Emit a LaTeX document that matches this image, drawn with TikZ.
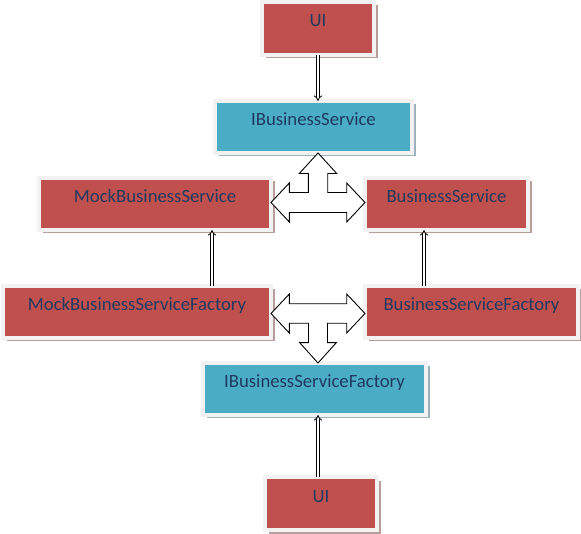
\documentclass[tikz,border=0pt]{standalone}
\usepackage{fontspec}
\setmainfont{Carlito}
\usetikzlibrary{calc,shadows,arrows.meta}

\definecolor{boxred}{HTML}{C0504D}
\definecolor{boxblue}{HTML}{4BACC6}
\definecolor{shadered}{HTML}{632523}
\definecolor{shadeblue}{HTML}{215968}
\definecolor{framegray}{HTML}{F2F2F2}
\definecolor{labelblue}{HTML}{1F3A60}

\begin{document}
\begin{tikzpicture}[x=1pt,y=-1pt,
  box/.style={rectangle,draw=framegray,line width=4pt,outer sep=0pt,
    inner xsep=0pt,inner ysep=0pt,text height=24.5pt,text depth=27.5pt,
    text=labelblue,font=\fontsize{18.7}{22}\selectfont},
  redbox/.style={box,fill=boxred,
    drop shadow={shadow xshift=3.5pt,shadow yshift=-3.5pt,fill=shadered,opacity=.45}},
  bluebox/.style={box,fill=boxblue,
    drop shadow={shadow xshift=3.5pt,shadow yshift=-3.5pt,fill=shadeblue,opacity=.45}},
  thinarrow/.style={draw=black,double=white,double distance=2pt,line width=0.8pt,-{Implies}},
  blockarrow/.style={draw=black,fill=white,line width=0.9pt,line join=miter}]
\useasboundingbox (0,0) rectangle (581,534);

\node[redbox,minimum width=112pt,minimum height=53pt] (ui1) at (318,28.5) {UI};
\node[bluebox,minimum width=197pt,minimum height=52pt] (ibs) at (313.5,127) {IBusinessService};
\node[redbox,minimum width=232pt,minimum height=52pt] (mbs) at (155,204) {MockBusinessService};
\node[redbox,minimum width=163pt,minimum height=52pt] (bs) at (446.5,204) {BusinessService};
\node[redbox,minimum width=268pt,minimum height=52pt] (mbsf) at (137,312) {MockBusinessServiceFactory};
\node[redbox,minimum width=213pt,minimum height=52pt] (bsf) at (471.5,312) {BusinessServiceFactory};
\node[bluebox,minimum width=223pt,minimum height=52pt] (ibsf) at (314.5,389) {IBusinessServiceFactory};
\node[redbox,minimum width=112pt,minimum height=53pt] (ui2) at (321,503.5) {UI};

% thin arrows
\draw[thinarrow] (ui1.south) -- (ui1.south |- ibs.north);
\draw[thinarrow] ([xshift=75pt]mbsf.north) -- ([xshift=57pt]mbs.south);
\draw[thinarrow] ([xshift=-47.5pt]bsf.north) -- ([xshift=-22.5pt]bs.south);
\draw[thinarrow] ([xshift=-3pt]ui2.north) -- ([xshift=3.5pt]ibsf.south);

% block arrows
\coordinate (hub1) at ($(mbs.east)!0.5!(bs.west)+(0,-1.5)$);
\coordinate (hub2) at ($(mbsf.east)!0.5!(bsf.west)+(0,1.5)$);
\draw[blockarrow,shift={(hub1)}] (hub1 |- ibs.south) -- (18.7,-29) -- (9.7,-29)
  -- (9.7,-10) -- (28.7,-10) -- (28.7,-19.5) -- (bs.west |- hub1) -- (28.7,19.5)
  -- (28.7,10) -- (-28.7,10) -- (-28.7,19.5) -- (mbs.east |- hub1) -- (-28.7,-19.5)
  -- (-28.7,-10) -- (-9.7,-10) -- (-9.7,-29) -- (-18.7,-29) -- cycle;
\draw[blockarrow,shift={(hub2)}] (hub2 |- ibsf.north) -- (18.3,29.2) -- (9.5,29.2)
  -- (9.5,9.8) -- (28.7,9.8) -- (28.7,19.5) -- (bsf.west |- hub2) -- (28.7,-19.5)
  -- (28.7,-9.7) -- (-28.7,-9.7) -- (-28.7,-19.5) -- (mbsf.east |- hub2) -- (-28.7,19.5)
  -- (-28.7,9.8) -- (-9.5,9.8) -- (-9.5,29.2) -- (-18.3,29.2) -- cycle;
\end{tikzpicture}
\end{document}
